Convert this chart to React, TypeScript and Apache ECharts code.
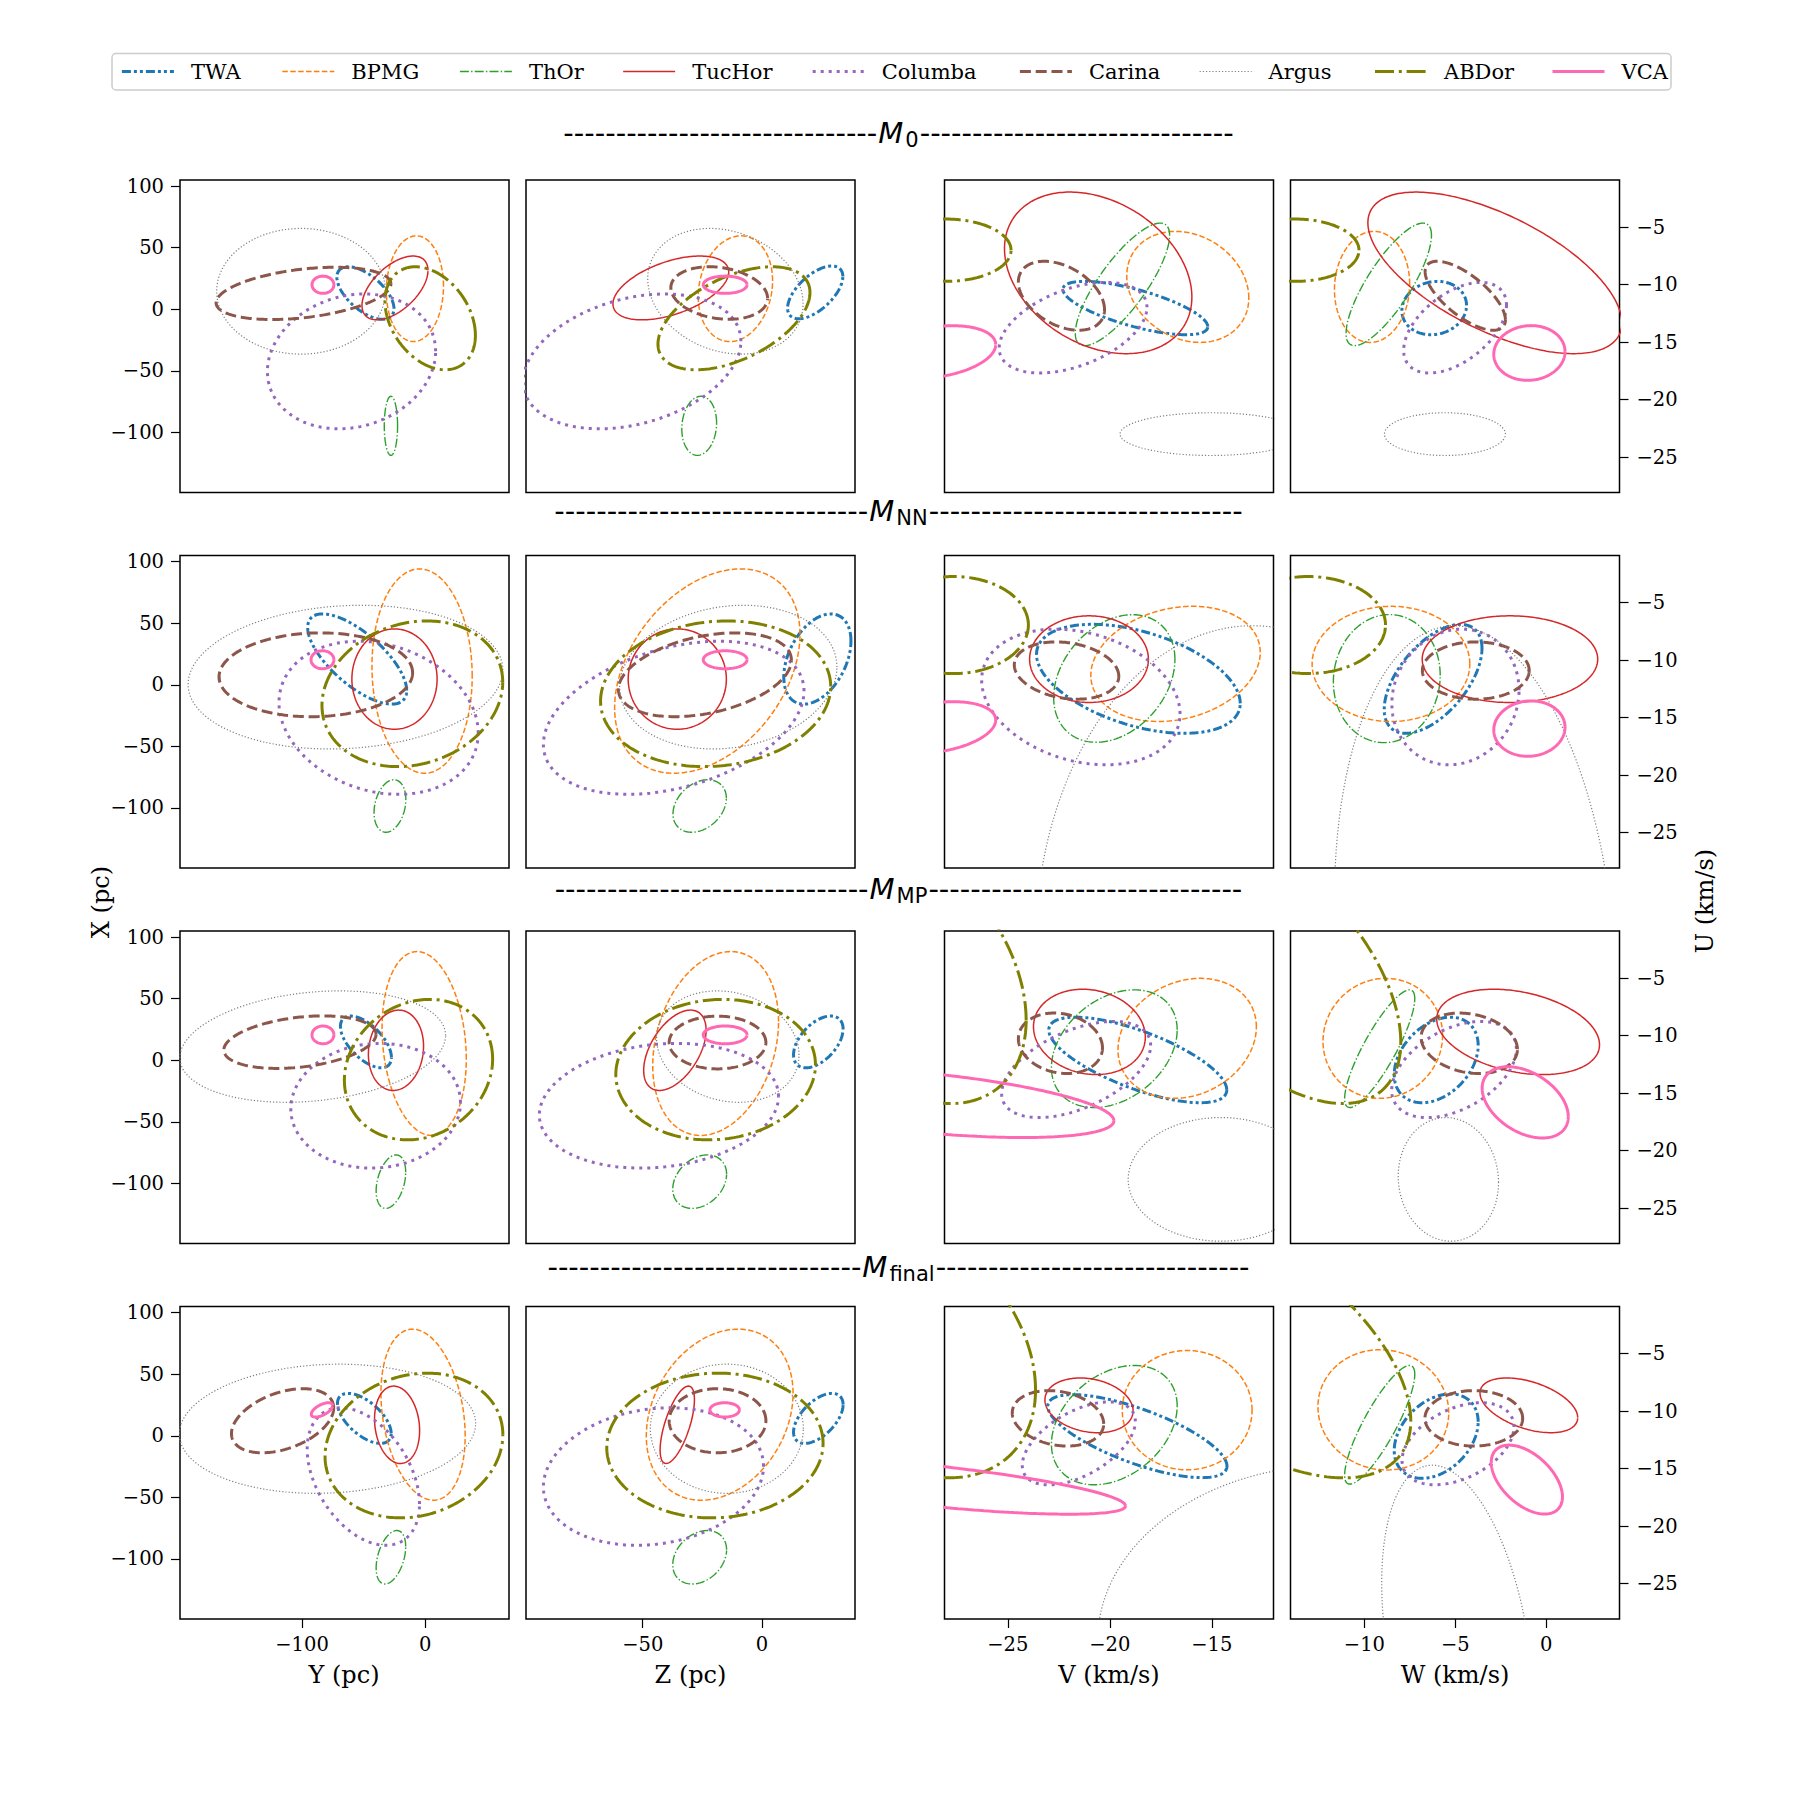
import React, { useEffect, useRef } from 'react';
import * as echarts from 'echarts';

// ---------------- data ----------------
const GROUPS = ['TWA', 'BPMG', 'ThOr', 'TucHor', 'Columba', 'Carina', 'Argus', 'ABDor', 'VCA'];
const MODEL_SUBS = ['0', 'NN', 'MP', 'final'];

// axis limits
const X_RANGE = [-148.7, 104.9];
const Y_RANGE = [-199.1, 68.1];
const Z_RANGE = [-99.0, 39.1];
const V_RANGE = [-28.1, -11.98];
const W_RANGE = [-14.07, 4.04];
const U_RANGE = [-28.08, -0.89];

// tick labels
const X_TICKS = [-100, -50, 0, 50, 100];
const Y_TICKS = [-100, 0];
const Z_TICKS = [-50, 0];
const V_TICKS = [-25, -20, -15];
const W_TICKS = [-10, -5, 0];
const U_TICKS = [-25, -20, -15, -10, -5];

// ellipses: [centre x, half-width x, centre y, half-height y, correlation], in GROUPS order
const M0_YX = [
  [-48.5, 23.2, 13.2, 21.3, -0.6], [-8.3, 23.2, 16.7, 42.9, 0.05], [-27.8, 5.4, -94.6, 24, 0],
  [-24.5, 26.8, 17.3, 25.9, 0.55], [-59.8, 68.3, -42.3, 54.7, 0.15], [-98.8, 71, 12.9, 21.2, 0.36],
  [-100.8, 68.5, 14.6, 51, 0], [4.1, 36.7, -7.3, 41.8, -0.33], [-83, 8.9, 19.9, 7, 0],
];
const M0_ZX = [
  [22.4, 11.6, 13.7, 21.4, 0.6], [-11.1, 15.6, 16.7, 42.9, 0.15], [-26.3, 7.3, -94.6, 24, 0.1],
  [-38.2, 24.3, 17.3, 25.9, 0.5], [-54.5, 45.7, -42.3, 54.7, 0.3], [-17.9, 20.3, 13.2, 21.3, -0.2],
  [-15.3, 32.6, 14.6, 51, -0.2], [-11.7, 31.9, -7.3, 41.8, 0.5], [-15.4, 9.2, 19.9, 7, 0],
];
const M0_VU = [
  [-18.75, 3.55, -12.03, 2.32, -0.7], [-16.18, 2.99, -10.19, 4.83, -0.2], [-19.38, 2.31, -9.97, 5.33, 0.8],
  [-20.57, 4.59, -8.97, 7.03, -0.3], [-21.8, 3.62, -13.74, 3.94, 0.45], [-22.37, 2.11, -10.96, 3.0, -0.4],
  [-15.04, 4.46, -23.0, 1.86, 0], [-28.03, 3.19, -7.0, 2.71, 0], [-28.5, 2.91, -15.85, 2.28, 0.28],
];
const M0_WU = [
  [-6.16, 1.78, -12.03, 2.32, 0.1], [-9.58, 2.07, -10.19, 4.83, 0.05], [-8.66, 2.35, -9.97, 5.33, 0.8],
  [-2.82, 6.99, -8.97, 7.03, -0.62], [-5.01, 2.83, -13.74, 3.94, 0.5], [-4.45, 2.21, -10.96, 3.0, -0.7],
  [-5.57, 3.33, -23.0, 1.86, 0], [-13.8, 3.5, -7.0, 2.71, 0], [-0.92, 1.96, -15.94, 2.38, 0.05],
];

const MNN_YX = [
  [-55.2, 40.2, 20.9, 36.6, -0.7], [-2.5, 40.7, 11.1, 82.9, -0.05], [-28.6, 12.9, -98.4, 21.3, 0.25],
  [-24.9, 34.6, 4.6, 40.7, 0], [-37.8, 80.9, -26.8, 62.1, -0.2], [-88.8, 78.6, 8.1, 34, 0.05],
  [-64.7, 127.8, 6.2, 58.3, 0.1], [-10.4, 73.4, -7.3, 59.1, 0.16], [-83.4, 9.3, 20.3, 7.3, 0],
];
const MNN_ZX = [
  [23.3, 14.1, 20.9, 36.6, 0.4], [-22.9, 38.9, 11.1, 82.9, 0.36], [-26.1, 11.2, -98.4, 21.3, 0.3],
  [-35.5, 20.6, 4.6, 40.7, 0], [-37, 54.7, -26.8, 62.1, 0.35], [-23.9, 36.3, 8.1, 34, 0.35],
  [-14.1, 45.6, 6.2, 58.3, 0.14], [-19.4, 48.3, -7.3, 59.1, 0.1], [-15.4, 9.2, 20.3, 7.3, 0],
];
const MNN_VU = [
  [-18.6, 4.99, -11.62, 4.74, -0.45], [-16.78, 4.15, -10.32, 5.01, 0.2], [-19.78, 2.97, -11.59, 5.55, 0.3],
  [-21.02, 2.91, -9.91, 3.77, 0], [-21.42, 4.86, -13.2, 5.9, -0.25], [-22.12, 2.56, -10.9, 2.49, -0.2],
  [-13, 10.65, -35, 28, 0], [-27.66, 3.67, -6.94, 4.22, 0], [-28.5, 2.91, -15.85, 2.24, 0.29],
];
const MNN_WU = [
  [-6.22, 2.69, -11.62, 4.74, 0.56], [-8.54, 4.34, -10.32, 5.01, 0], [-8.77, 2.94, -11.6, 5.57, 0.05],
  [-1.99, 4.83, -9.91, 3.77, 0], [-4.99, 3.5, -13.2, 5.9, 0.1], [-3.87, 2.94, -10.9, 2.49, 0],
  [-3.9, 7.75, -35, 28, -0.15], [-13.1, 4.26, -6.94, 4.22, 0], [-0.92, 1.96, -15.95, 2.41, 0.05],
];

const MMP_YX = [
  [-48.1, 20.7, 14.9, 21, -0.6], [-0.8, 34.2, 13.6, 74.6, -0.17], [-27.8, 12, -98.5, 21.7, 0.35],
  [-23.7, 22.4, 8.1, 32.6, 0.1], [-40.2, 68.9, -36.9, 50.6, 0.05], [-101.7, 61.8, 14.7, 21.3, 0.3],
  [-91.3, 107.9, 11.1, 45.2, 0.2], [-5.4, 60.2, -7.6, 57, 0.15], [-83, 8.9, 20.6, 7.2, 0],
];
const MMP_ZX = [
  [23.7, 10.4, 14.9, 21, 0.5], [-19.4, 26.4, 13.6, 74.6, 0.24], [-26.1, 11.3, -98.5, 21.7, 0.28],
  [-36.5, 13.1, 8.1, 32.6, 0.5], [-43.2, 50.2, -36.9, 50.6, 0.15], [-18.6, 20.3, 14.4, 21.4, 0],
  [-14.3, 29.9, 11.1, 45.2, -0.15], [-19.4, 41.9, -7.6, 57, 0.07], [-15.4, 9.2, 20.6, 7.2, 0],
];
const MMP_VU = [
  [-18.63, 4.36, -12.11, 3.72, -0.7], [-16.21, 3.39, -10.23, 5.22, 0.19], [-19.78, 3.08, -11.13, 5.12, 0.32],
  [-21.0, 2.74, -9.67, 3.71, -0.12], [-21.65, 3.65, -12.94, 4.18, 0.5], [-22.42, 2.06, -10.66, 2.63, -0.15],
  [-14.56, 4.54, -22.5, 5.38, 0], [-30.14, 6.04, -4, 11.9, -0.39], [-29.17, 9.37, -15.82, 3.04, -0.52],
];
const MMP_WU = [
  [-6.05, 2.31, -12.11, 3.72, 0.34], [-8.99, 3.29, -10.23, 5.22, 0.05], [-9.16, 1.93, -11.13, 5.12, 0.85],
  [-1.54, 4.48, -9.67, 3.71, -0.3], [-5.07, 3.43, -12.94, 4.18, 0.43], [-4.23, 2.65, -10.66, 2.63, -0.2],
  [-5.38, 2.76, -22.5, 5.38, -0.05], [-15.08, 7.08, -4, 11.9, -0.55], [-1.15, 2.37, -15.8, 3.1, -0.4],
];

const MFIN_YX = [
  [-49.4, 21.8, 14.1, 20.3, -0.6], [-1.7, 34.2, 17.1, 69.4, -0.25], [-27.8, 12, -98.6, 21.7, 0.4],
  [-22.8, 18.3, 8.9, 31.4, -0.15], [-50.2, 45.6, -33.1, 55.8, -0.4], [-115.8, 41.5, 12.2, 26, 0.4],
  [-79.3, 120.3, 5.7, 52.4, 0.08], [-9.1, 72.2, -7.9, 58.7, 0.15], [-83.8, 8.7, 21, 5.8, 0.6],
];
const MFIN_ZX = [
  [23.7, 10.4, 14.1, 20.3, 0.55], [-17.7, 30.8, 17.1, 69.4, 0.25], [-26.1, 11.3, -98.6, 21.7, 0.28],
  [-35.5, 7.2, 8.9, 31.4, 0.65], [-45.5, 46.2, -33.1, 55.8, 0.15], [-18.6, 20.3, 12.2, 26, 0],
  [-14.7, 32.1, 5.7, 52.4, 0], [-19.7, 45.4, -7.9, 58.7, 0.03], [-15.6, 6.2, 21, 5.8, 0],
];
const MFIN_VU = [
  [-18.65, 4.39, -12.17, 3.61, -0.72], [-16.21, 3.18, -9.91, 5.19, 0], [-19.78, 3.08, -11.21, 5.19, 0.32],
  [-21.02, 2.16, -9.49, 2.38, -0.2], [-21.52, 2.77, -12.8, 3.61, 0.53], [-22.54, 2.24, -10.62, 2.41, -0.2],
  [-9, 11.6, -30, 15.3, 0], [-30.19, 6.55, -4, 11.8, -0.35], [-29.27, 10.04, -16.39, 2.57, -0.72],
];
const MFIN_WU = [
  [-6.05, 2.31, -12.17, 3.67, 0.34], [-8.96, 3.6, -9.88, 5.23, -0.05], [-9.16, 1.93, -11.18, 5.16, 0.85],
  [-0.95, 2.69, -9.49, 2.38, -0.45], [-4.85, 3.08, -12.83, 3.57, 0.41], [-3.98, 2.69, -10.62, 2.41, 0],
  [-4.9, 4.15, -30, 15.3, -0.33], [-16.26, 8.81, -4, 11.8, -0.58], [-1.06, 1.96, -15.95, 3.0, -0.5],
];

const PANELS = [
  [M0_YX, M0_ZX, M0_VU, M0_WU],
  [MNN_YX, MNN_ZX, MNN_VU, MNN_WU],
  [MMP_YX, MMP_ZX, MMP_VU, MMP_WU],
  [MFIN_YX, MFIN_ZX, MFIN_VU, MFIN_WU],
];

// ---------------- styles ----------------
const COLORS = ['#1f77b4', '#ff7f0e', '#2ca02c', '#d62728', '#9467bd', '#8c564b', '#7f7f7f', '#808000', '#ff69b4'];
const WIDTHS = [3, 1.5, 1.4, 1.5, 3, 3, 1.2, 3, 3];
const DASHES: any[] = [
  [9, 3, 3, 3, 3, 3], [5.5, 2.4], [9, 2.2, 1.4, 2.2], 'solid', [3, 5], [11, 4.8], [1.2, 2], [19, 4.8, 3, 4.8], 'solid',
];
const LEGEND_LEFT = [120.4, 281.6, 459.2, 622.4, 811.2, 1018.4, 1199, 1373.5, 1551];
const COL_LEFT = [180, 526, 944.5, 1290.5];
const COL_W = 329;
const ROW_TOP = [180, 555.5, 931, 1306.5];
const ROW_H = 312.5;
const TITLE_Y = [133, 511, 889, 1267];
const SERIF = '"DejaVu Serif", serif';
const SANS = '"DejaVu Sans", sans-serif';

function ellipsePoints(e: number[]) {
  const [cx, hx, cy, hy, r] = e;
  const s = Math.sqrt(Math.max(0, 1 - r * r));
  const pts: number[][] = [];
  const n = 240;
  for (let i = 0; i <= n; i++) {
    const t = (i / n) * Math.PI * 2;
    pts.push([cx + hx * Math.cos(t), cy + hy * (r * Math.cos(t) + s * Math.sin(t))]);
  }
  return pts;
}

function measure(text: string, font: string) {
  const ctx = document.createElement('canvas').getContext('2d');
  if (!ctx) return text.length * 12;
  ctx.font = font;
  return ctx.measureText(text).width;
}

const fmt = (v: number) => (v < 0 ? '\u2212' + Math.abs(v) : String(v));

export default function App() {
  const ref = useRef<HTMLDivElement>(null);

  useEffect(() => {
    if (!ref.current) return;
    const chart = echarts.init(ref.current, undefined, { renderer: 'svg' });

    const colAxes = [
      [Y_RANGE, Y_TICKS], [Z_RANGE, Z_TICKS], [V_RANGE, V_TICKS], [W_RANGE, W_TICKS],
    ];
    const grids: any[] = [];
    const xAxes: any[] = [];
    const yAxes: any[] = [];
    const series: any[] = [];

    for (let r = 0; r < 4; r++) {
      for (let c = 0; c < 4; c++) {
        const idx = r * 4 + c;
        grids.push({
          left: COL_LEFT[c], top: ROW_TOP[r], width: COL_W, height: ROW_H,
          show: true, borderColor: '#000', borderWidth: 1.5, backgroundColor: 'transparent',
        });
        const [xr, xt] = colAxes[c] as any;
        const bottom = r === 3;
        xAxes.push({
          type: 'value', gridIndex: idx, min: xr[0], max: xr[1], position: 'bottom',
          axisLine: { show: false, onZero: false }, splitLine: { show: false },
          axisTick: { show: bottom, length: 9, lineStyle: { color: '#000', width: 1.2 }, customValues: xt },
          axisLabel: {
            show: bottom, customValues: xt, margin: 15, formatter: fmt,
            fontFamily: SERIF, fontSize: 19.5, color: '#000',
          },
        });
        const yr = c < 2 ? X_RANGE : U_RANGE;
        const yt = c < 2 ? X_TICKS : U_TICKS;
        const showY = c === 0 || c === 3;
        yAxes.push({
          type: 'value', gridIndex: idx, min: yr[0], max: yr[1],
          position: c === 3 ? 'right' : 'left',
          axisLine: { show: false, onZero: false }, splitLine: { show: false },
          axisTick: { show: showY, length: 9, lineStyle: { color: '#000', width: 1.2 }, customValues: yt },
          axisLabel: {
            show: showY, customValues: yt, margin: c === 3 ? 17 : 16, formatter: fmt,
            fontFamily: SERIF, fontSize: 19.5, color: '#000',
          },
        });
        const ells = PANELS[r][c];
        ells.forEach((e, g) => {
          series.push({
            type: 'line', name: GROUPS[g], xAxisIndex: idx, yAxisIndex: idx,
            data: ellipsePoints(e), showSymbol: false, symbol: 'none', silent: true,
            lineStyle: { color: COLORS[g], width: WIDTHS[g], type: DASHES[g] },
            itemStyle: { color: COLORS[g] },
            z: 2 + g,
          });
        });
      }
    }

    const legends = GROUPS.map((g, i) => ({
      data: [g], left: LEGEND_LEFT[i], top: 60.5, padding: 0, itemGap: 0,
      itemWidth: 52, itemHeight: 22, selectedMode: false,
      itemStyle: { opacity: 0 },
      lineStyle: { width: WIDTHS[i] },
      textStyle: { fontFamily: SERIF, fontSize: 21, color: '#000', padding: [0, 0, 0, 12], lineHeight: 22 },
    }));

    const graphics: any[] = [
      {
        type: 'rect', z: -10,
        shape: { x: 112, y: 53.5, width: 1559, height: 36.5, r: 4 },
        style: { fill: '#fff', stroke: '#cccccc', lineWidth: 1.5 },
      },
    ];

    const dashes = '-'.repeat(30);
    const mFont = `italic 29px ${SANS}`;
    const wM = measure('M', mFont) + 2;
    MODEL_SUBS.forEach((sub, r) => {
      const wS = measure(sub, `21px ${SANS}`);
      const x0 = 898.5 - (wM + wS) / 2;
      const y = TITLE_Y[r];
      graphics.push(
        { type: 'text', style: { text: dashes, x: x0 - 1, y, align: 'right', verticalAlign: 'middle', fontFamily: SANS, fontSize: 29, fill: '#000' } },
        { type: 'text', style: { text: 'M', x: x0, y, align: 'left', verticalAlign: 'middle', fontFamily: SANS, fontStyle: 'italic', fontSize: 29, fill: '#000' } },
        { type: 'text', style: { text: sub, x: x0 + wM, y: y + 7, align: 'left', verticalAlign: 'middle', fontFamily: SANS, fontSize: 21, fill: '#000' } },
        { type: 'text', style: { text: dashes, x: x0 + wM + wS + 1, y, align: 'left', verticalAlign: 'middle', fontFamily: SANS, fontSize: 29, fill: '#000' } },
      );
    });

    const axisName = (text: string, x: number, y: number, rot = 0) => ({
      type: 'text', x, y, rotation: rot,
      style: { text, x: 0, y: 0, align: 'center', verticalAlign: 'middle', fontFamily: SERIF, fontSize: 24, fill: '#000' },
    });
    graphics.push(
      axisName('X (pc)', 101, 902, Math.PI / 2),
      axisName('U (km/s)', 1705, 901, Math.PI / 2),
      axisName('Y (pc)', 344, 1675),
      axisName('Z (pc)', 690.5, 1675),
      axisName('V (km/s)', 1109, 1675),
      axisName('W (km/s)', 1455, 1675),
    );

    chart.setOption({
      animation: false,
      backgroundColor: '#fff',
      grid: grids,
      xAxis: xAxes,
      yAxis: yAxes,
      legend: legends,
      graphic: graphics,
      series,
    });

    return () => chart.dispose();
  }, []);

  return (
    <div
      ref={ref}
      style={{ position: 'absolute', left: 0, top: 0, width: 1800, height: 1800, background: '#fff' }}
    />
  );
}
